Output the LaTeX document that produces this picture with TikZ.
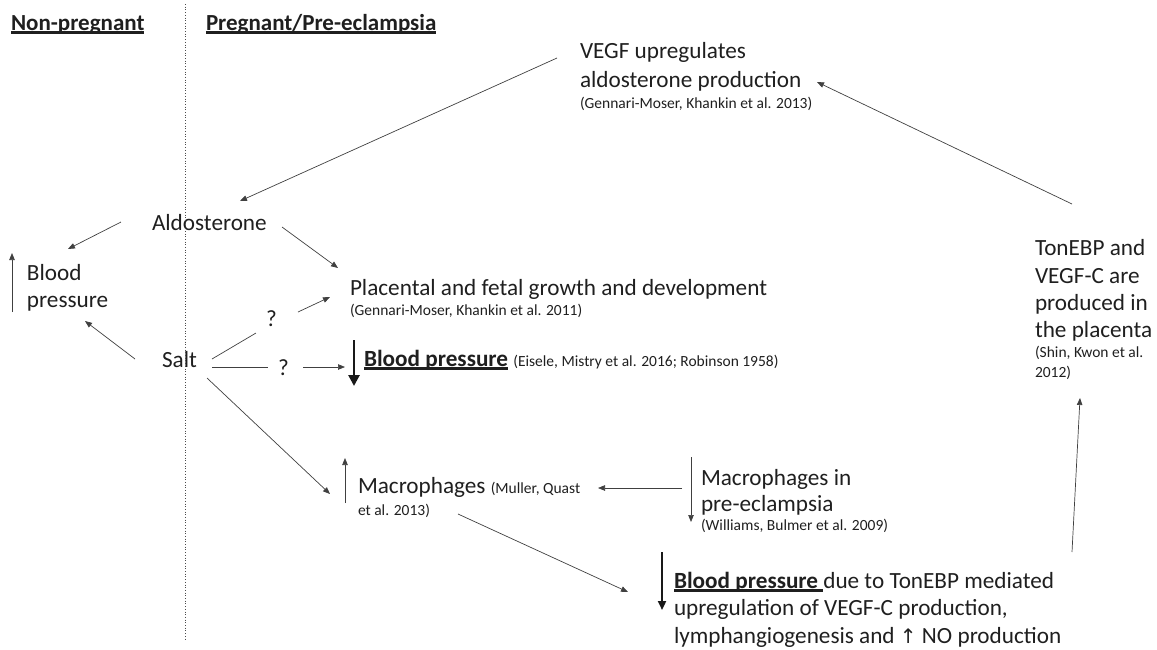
\documentclass[tikz,border=0pt]{standalone}
\usepackage{fontspec}
\setmainfont{Carlito}
\newfontfamily\symfont{DejaVu Sans}
\newcommand{\ulbar}[1]{\setbox0\hbox{#1}\rlap{\vrule height -1.4pt depth 3.6pt width \wd0}\box0}
\usetikzlibrary{arrows.meta}
\tikzset{
  txt/.style={anchor=base west, inner sep=0pt, outer sep=0pt, text=black!88, font=\fontsize{23.2}{27.5}\selectfont},
  cite/.style={txt, font=\fontsize{15.5}{19}\selectfont},
  hdr/.style={txt, font=\fontsize{23}{27}\selectfont\bfseries},
  conn/.style={draw=black!75, line width=0.7pt, -{Triangle[length=7pt,width=5.5pt]}},
  plainline/.style={draw=black!75, line width=0.7pt},
  bigarrow/.style={draw=black!90, line width=2.6pt, -{Triangle[length=11pt,width=11pt]}},
  midarrow/.style={draw=black!90, line width=2.2pt, -{Triangle[length=9pt,width=8pt]}},
  divider/.style={draw=black!70, line width=0.7pt, dotted}
}
\begin{document}
\begin{tikzpicture}[x=1pt,y=-1pt]
\useasboundingbox (0,0) rectangle (1157,649);
% headers
\node[hdr] (nonpreg) at (11,30) {\ulbar{Non-pregnant}};
\node[hdr] (preg) at (206,30) {\ulbar{Pregnant/Pre-eclampsia}};
% nodes
\node[txt] (vegf) at (580,58) {VEGF upregulates};
\node[txt] (vegfb) at (580,87) {aldosterone production};
\node[cite] (vegfcite) at (580,108) {(Gennari-Moser, Khankin et al. 2013)};
\node[txt] (aldo) at (152,230) {Aldosterone};
\node[txt] (bpl) at (27,280) {Blood};
\node[txt] (bplb) at (27,307) {pressure};
\node[txt] (salt) at (162,367) {Salt};
\node[txt] (qa) at (266,326) {?};
\node[txt] (qb) at (278,375) {?};
\node[txt] (plac) at (350,295) {Placental and fetal growth and development};
\node[cite] (placcite) at (350,315) {(Gennari-Moser, Khankin et al. 2011)};
\node[txt] (bpmid) at (364,366) {{\bfseries\ulbar{Blood pressure}} {\fontsize{15.5}{19}\selectfont(Eisele, Mistry et al. 2016; Robinson 1958)}};
\node[txt] (mac) at (358,493) {Macrophages {\fontsize{15.5}{19}\selectfont(Muller, Quast}};
\node[cite] (maccite) at (358,515) {et al. 2013)};
\node[txt] (macpe) at (701,485) {Macrophages in};
\node[txt] (macpeb) at (701,511) {pre-eclampsia};
\node[cite] (macpecite) at (701,530) {(Williams, Bulmer et al. 2009)};
\node[txt] (ton) at (1035,255) {TonEBP and};
\node[txt] (tonb) at (1035,283) {VEGF-C are};
\node[txt] (tonc) at (1035,310) {produced in};
\node[txt] (tond) at (1035,337) {the placenta};
\node[cite] (toncite) at (1035,357) {(Shin, Kwon et al.};
\node[cite] (toncitb) at (1035,377) {2012)};
\node[txt] (bpbot) at (674,588) {{\bfseries\ulbar{Blood pressure\ }}due to TonEBP mediated};
\node[txt] (bpbotb) at (674,615.5) {upregulation of VEGF-C production,};
\node[txt] (bpbotc) at (674,643) {lymphangiogenesis and {\symfont\fontsize{20}{20}\selectfont ↑} NO production};
% connector end points
\coordinate (vegfS) at (557,58);   \coordinate (aldoN) at (240,201);
\coordinate (tonN) at (1072,204);  \coordinate (vegfE) at (817,82);
\coordinate (aldoW) at (121,222);  \coordinate (bplN) at (68,249);
\coordinate (aldoE) at (282,227);  \coordinate (placW) at (338,268);
\coordinate (saltW) at (135,359);  \coordinate (bplS) at (85,321);
\coordinate (saltNE) at (212,359); \coordinate (qaW) at (256,333);
\coordinate (qaE) at (298,312);    \coordinate (placSW) at (330,297);
\coordinate (saltE) at (212,367);  \coordinate (qbW) at (268,367);
\coordinate (qbE) at (303,367);    \coordinate (bpmidW) at (345,367);
\coordinate (saltSE) at (207,378); \coordinate (macW) at (330,494);
\coordinate (macpeW) at (682,488); \coordinate (macE) at (598,488);
\coordinate (macS) at (458,514);   \coordinate (bpbotW) at (628,592);
\coordinate (bpbotE) at (1072,552);\coordinate (tonS) at (1080,398);
\coordinate (upA) at (12,312);     \coordinate (upAt) at (12,253);
\coordinate (upM) at (345,503);    \coordinate (upMt) at (345,458);
\coordinate (dnP) at (691,457);    \coordinate (dnPt) at (691,522);
\coordinate (dnM) at (354,340);    \coordinate (dnMt) at (354,386);
\coordinate (dnB) at (662,552);    \coordinate (dnBt) at (662,610);
\coordinate (divT) at (185,4);     \coordinate (divB) at (185,640);
% divider
\draw[divider] (divT) -- (divB);
% connectors
\draw[conn] (vegfS) -- (aldoN);
\draw[conn] (tonN) -- (vegfE);
\draw[conn] (aldoW) -- (bplN);
\draw[conn] (aldoE) -- (placW);
\draw[conn] (saltW) -- (bplS);
\draw[plainline] (saltNE) -- (qaW);
\draw[conn] (qaE) -- (placSW);
\draw[plainline] (saltE) -- (qbW);
\draw[conn] (qbE) -- (bpmidW);
\draw[conn] (saltSE) -- (macW);
\draw[conn] (macpeW) -- (macE);
\draw[conn] (macS) -- (bpbotW);
\draw[conn] (bpbotE) -- (tonS);
% small up/down arrows
\draw[conn] (upA) -- (upAt);
\draw[conn] (upM) -- (upMt);
\draw[conn] (dnP) -- (dnPt);
% thick down arrows
\draw[bigarrow] (dnM) -- (dnMt);
\draw[midarrow] (dnB) -- (dnBt);
\end{tikzpicture}
\end{document}
